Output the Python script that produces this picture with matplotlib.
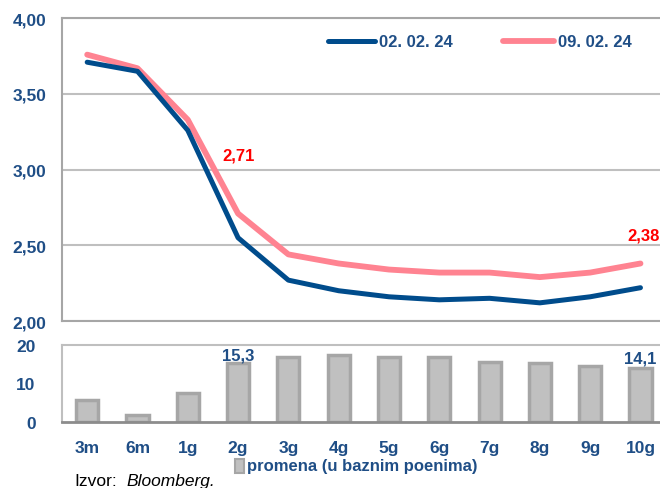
import numpy as np
import matplotlib
matplotlib.use("Agg")
import matplotlib.pyplot as plt
from matplotlib.patches import Rectangle

# data
tenors = ["3m", "6m", "1g", "2g", "3g", "4g", "5g", "6g", "7g", "8g", "9g", "10g"]
yield_0202 = [3.71, 3.65, 3.26, 2.55, 2.27, 2.20, 2.16, 2.14, 2.15, 2.12, 2.16, 2.22]
yield_0902 = [3.76, 3.67, 3.33, 2.71, 2.44, 2.38, 2.34, 2.32, 2.32, 2.29, 2.32, 2.38]
change_bp = [5.7, 1.8, 7.4, 15.3, 16.8, 17.4, 16.8, 16.8, 15.6, 15.2, 14.6, 14.1]
label_0202 = "02. 02. 24"
label_0902 = "09. 02. 24"
bar_label = "promena (u baznim poenima)"

BLUE = "#004C8C"
PINK = "#FF8391"
NAVY = "#1F4E86"
GRID = "#BFBFBF"
FONT = ["Liberation Sans Narrow", "Liberation Sans", "DejaVu Sans"]
plt.rcParams["font.family"] = FONT

fig = plt.figure(figsize=(6.6, 4.89), dpi=100)
x = np.arange(len(tenors))

# ---- top: yield curves
ax = fig.add_axes([0.094, 0.3415, 0.9145, 0.619])
ax.plot(x, yield_0202, color=BLUE, lw=3.6, solid_capstyle="round", zorder=3)
ax.plot(x, yield_0902, color=PINK, lw=4.2, solid_capstyle="round", zorder=2)
ax.set_xlim(-0.5, 11.5)
ax.set_ylim(2.0, 4.0)
ax.set_yticks([2.0, 2.5, 3.0, 3.5, 4.0])
ax.set_yticklabels([f"{v:.2f}".replace(".", ",") for v in [2.0, 2.5, 3.0, 3.5, 4.0]])
ax.set_xticks([])
ax.grid(axis="y", color=GRID, lw=1.5)
for s in ["left", "top", "bottom"]:
    ax.spines[s].set_color("#A6A6A6")
    ax.spines[s].set_linewidth(1.5)
ax.spines["right"].set_visible(False)
ax.tick_params(axis="y", length=0, pad=11.5, labelsize=12.5, labelcolor=NAVY)
for t in ax.get_yticklabels():
    t.set_fontweight("bold")

ax.text(3, 3.10, f"{yield_0902[3]:.2f}".replace(".", ","),
        color="red", fontsize=12, fontweight="bold", ha="center", va="center")
ax.text(11.07, 2.57, f"{yield_0902[11]:.2f}".replace(".", ","),
        color="red", fontsize=12, fontweight="bold", ha="center", va="center")

# legend, drawn by hand to keep the Excel look
ax.plot([4.78, 5.72], [3.85, 3.85], color=BLUE, lw=3.6, solid_capstyle="round", clip_on=False)
ax.text(5.8, 3.85, label_0202, color=NAVY, fontsize=12, fontweight="bold", va="center")
ax.plot([8.27, 9.28], [3.85, 3.85], color=PINK, lw=4.2, solid_capstyle="round", clip_on=False)
ax.text(9.36, 3.85, label_0902, color=NAVY, fontsize=12, fontweight="bold", va="center")

# ---- bottom: change in basis points
bx = fig.add_axes([0.094, 0.135, 0.9145, 0.1575])
bx.bar(x, change_bp, width=0.44, color="#C0C0C0", edgecolor="#A6A6A6", linewidth=2.5, zorder=2)
bx.set_xlim(-0.5, 11.5)
bx.set_ylim(0, 20)
bx.set_yticks([0, 10, 20])
bx.set_xticks(x)
bx.set_xticklabels(tenors)
bx.tick_params(axis="both", length=0, labelsize=12.5, labelcolor=NAVY)
bx.tick_params(axis="x", pad=13)
bx.tick_params(axis="y", pad=19)
for t in bx.get_yticklabels() + bx.get_xticklabels():
    t.set_fontweight("bold")
bx.spines["right"].set_visible(False)
for s in ["left", "top"]:
    bx.spines[s].set_color("#BFBFBF")
    bx.spines[s].set_linewidth(1.5)
bx.spines["bottom"].set_color("#8C8C8C")
bx.spines["bottom"].set_linewidth(2)

bx.text(3, change_bp[3] + 2.2, "15,3", color=NAVY, fontsize=12, fontweight="bold", ha="center", va="center")
bx.text(11, change_bp[11] + 2.6, "14,1", color=NAVY, fontsize=12, fontweight="bold", ha="center", va="center")

# bar legend and source
fig.patches.append(Rectangle((0.356, 0.03), 0.013, 0.03, transform=fig.transFigure,
                             facecolor="#C0C0C0", edgecolor="#A6A6A6", lw=1.5))
fig.text(0.374, 0.045, bar_label, color=NAVY, fontsize=12, fontweight="bold", va="center")
fig.text(0.112, 0.016, "Izvor:", color="black", fontsize=12.5, va="center",
         family=["Liberation Sans", "DejaVu Sans"])
fig.text(0.192, 0.016, "Bloomberg.", color="black", fontsize=12.5, va="center", style="italic",
         family=["Liberation Sans", "DejaVu Sans"])

fig.savefig("out.png", dpi=100)
